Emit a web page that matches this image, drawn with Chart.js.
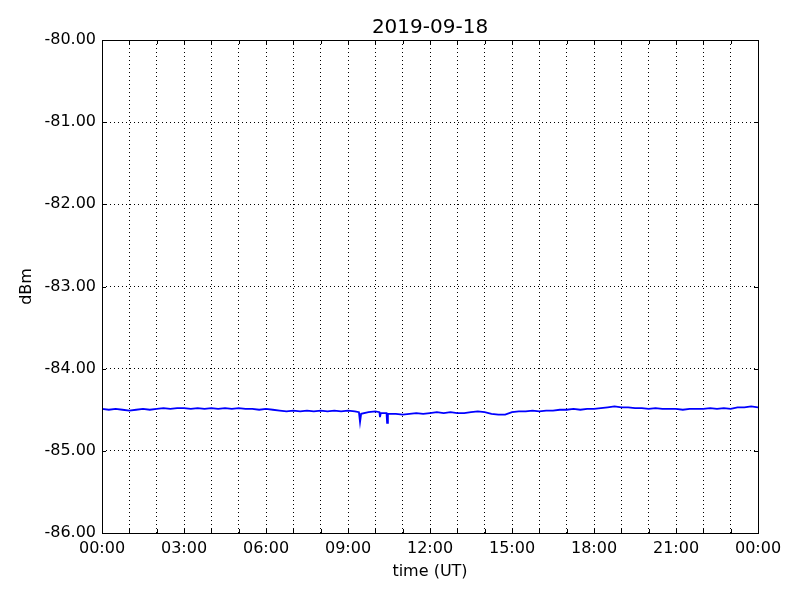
<!DOCTYPE html>
<html>
<head>
<meta charset="utf-8">
<script src="https://cdn.jsdelivr.net/npm/chart.js@4"></script>
<style>
  html, body { margin: 0; padding: 0; background: #fff; }
  #wrap { width: 800px; height: 600px; }
</style>
</head>
<body>
<div id="wrap"><canvas id="grafico" width="800" height="600"></canvas></div>
<script>
// dados (hora UT, dBm)
const titulo = "2019-09-18";
const horas = [
  0.00, 0.25, 0.50, 0.75, 1.00, 1.25, 1.50, 1.75, 2.00, 2.25, 2.50, 2.75,
  3.00, 3.25, 3.50, 3.75, 4.00, 4.25, 4.50, 4.75, 5.00, 5.25, 5.50, 5.75,
  6.00, 6.25, 6.50, 6.75, 7.00, 7.25, 7.50, 7.75, 8.00, 8.25, 8.50, 8.75,
  9.00, 9.25, 9.40, 9.44, 9.48, 9.75, 10.00, 10.15, 10.17, 10.20, 10.41, 10.43,
  10.46, 10.75, 11.00, 11.25, 11.50, 11.75, 12.00, 12.25, 12.50, 12.75, 13.00, 13.25,
  13.50, 13.75, 14.00, 14.25, 14.50, 14.75, 15.00, 15.25, 15.50, 15.75, 16.00, 16.25,
  16.50, 16.75, 17.00, 17.25, 17.50, 17.75, 18.00, 18.25, 18.50, 18.75, 19.00, 19.25,
  19.50, 19.75, 20.00, 20.25, 20.50, 20.75, 21.00, 21.25, 21.50, 21.75, 22.00, 22.25,
  22.50, 22.75, 23.00, 23.25, 23.50, 23.75, 24.00
];
const potencia = [
  -84.49, -84.50, -84.49, -84.50, -84.51, -84.50, -84.49, -84.50, -84.49, -84.48, -84.49, -84.48,
  -84.48, -84.49, -84.48, -84.49, -84.48, -84.49, -84.48, -84.49, -84.48, -84.49, -84.49, -84.50,
  -84.49, -84.50, -84.51, -84.52, -84.51, -84.52, -84.51, -84.52, -84.51, -84.52, -84.51, -84.52,
  -84.51, -84.52, -84.53, -84.65, -84.55, -84.53, -84.52, -84.53, -84.59, -84.54, -84.54, -84.66,
  -84.55, -84.55, -84.56, -84.55, -84.54, -84.55, -84.54, -84.53, -84.54, -84.53, -84.54, -84.54,
  -84.53, -84.52, -84.53, -84.55, -84.56, -84.56, -84.53, -84.52, -84.52, -84.51, -84.52, -84.51,
  -84.51, -84.50, -84.50, -84.49, -84.50, -84.49, -84.49, -84.48, -84.47, -84.46, -84.47, -84.47,
  -84.48, -84.48, -84.49, -84.48, -84.49, -84.49, -84.49, -84.50, -84.49, -84.49, -84.49, -84.48,
  -84.49, -84.48, -84.49, -84.47, -84.47, -84.46, -84.47
];
const eixoY = { min: -86, max: -80, passo: 1 };
const eixoX = { min: 0, max: 24, passo: 1, rotulo: 3 };

const fonte = "'DejaVu Sans', sans-serif";

// moldura, marcas para dentro e título (estilo matplotlib clássico)
const moldura = {
  id: "moldura",
  beforeDraw(chart) {
    const c = chart.ctx;
    c.save();
    c.fillStyle = "#fff";
    c.fillRect(0, 0, chart.width, chart.height);
    c.restore();
  },
  afterDraw(chart) {
    const c = chart.ctx;
    const a = chart.chartArea;
    const sx = chart.scales.x, sy = chart.scales.y;
    c.save();
    c.strokeStyle = "#000";
    c.lineWidth = 1;
    c.beginPath();
    sx.ticks.forEach(t => {
      const px = Math.round(sx.getPixelForValue(t.value)) + 0.5;
      c.moveTo(px, a.bottom); c.lineTo(px, a.bottom - 4);
      c.moveTo(px, a.top); c.lineTo(px, a.top + 4);
    });
    sy.ticks.forEach(t => {
      const py = Math.round(sy.getPixelForValue(t.value)) + 0.5;
      c.moveTo(a.left, py); c.lineTo(a.left + 4, py);
      c.moveTo(a.right, py); c.lineTo(a.right - 4, py);
    });
    c.stroke();
    c.strokeRect(Math.round(a.left) + 0.5, Math.round(a.top) + 0.5,
                 Math.round(a.right - a.left), Math.round(a.bottom - a.top));
    c.fillStyle = "#000";
    c.font = "20px " + fonte;
    c.textAlign = "center";
    c.textBaseline = "alphabetic";
    c.fillText(titulo, (a.left + a.right) / 2, a.top - 7);
    c.restore();
  }
};

const pontos = horas.map((h, i) => ({ x: h, y: potencia[i] }));

new Chart(document.getElementById("grafico"), {
  type: "line",
  data: {
    datasets: [{
      data: pontos,
      borderColor: "#0000ff",
      borderWidth: 1.8,
      pointRadius: 0,
      tension: 0,
      fill: false
    }]
  },
  options: {
    responsive: false,
    animation: false,
    events: [],
    layout: { padding: { top: 40, right: 42, left: 0, bottom: 0 } },
    plugins: { legend: { display: false }, tooltip: { enabled: false }, title: { display: false } },
    scales: {
      x: {
        type: "linear",
        min: eixoX.min,
        max: eixoX.max,
        afterFit(s) { s.height = 67; },
        border: { display: false, dash: [1, 3] },
        grid: { color: "#000", lineWidth: 1, drawTicks: false },
        ticks: {
          stepSize: eixoX.passo,
          autoSkip: false,
          maxRotation: 0,
          padding: 6,
          color: "#000",
          font: { family: fonte, size: 16 },
          callback(v) {
            if (v % eixoX.rotulo !== 0) return "";
            const h = v % 24;
            return (h < 10 ? "0" : "") + h + ":00";
          }
        },
        title: {
          display: true,
          text: "time (UT)",
          color: "#000",
          font: { family: fonte, size: 16 },
          padding: { top: 0, bottom: 18.4 }
        }
      },
      y: {
        min: eixoY.min,
        max: eixoY.max,
        afterFit(s) { s.width = 102; },
        border: { display: false, dash: [1, 3] },
        grid: { color: "#000", lineWidth: 1, drawTicks: false },
        ticks: {
          stepSize: eixoY.passo,
          padding: 6,
          color: "#000",
          font: { family: fonte, size: 16 },
          callback(v) { return v.toFixed(2); }
        },
        title: {
          display: true,
          text: "dBm",
          color: "#000",
          font: { family: fonte, size: 16 },
          padding: { top: 17.4, bottom: 0 }
        }
      }
    }
  },
  plugins: [moldura]
});
</script>
</body>
</html>
